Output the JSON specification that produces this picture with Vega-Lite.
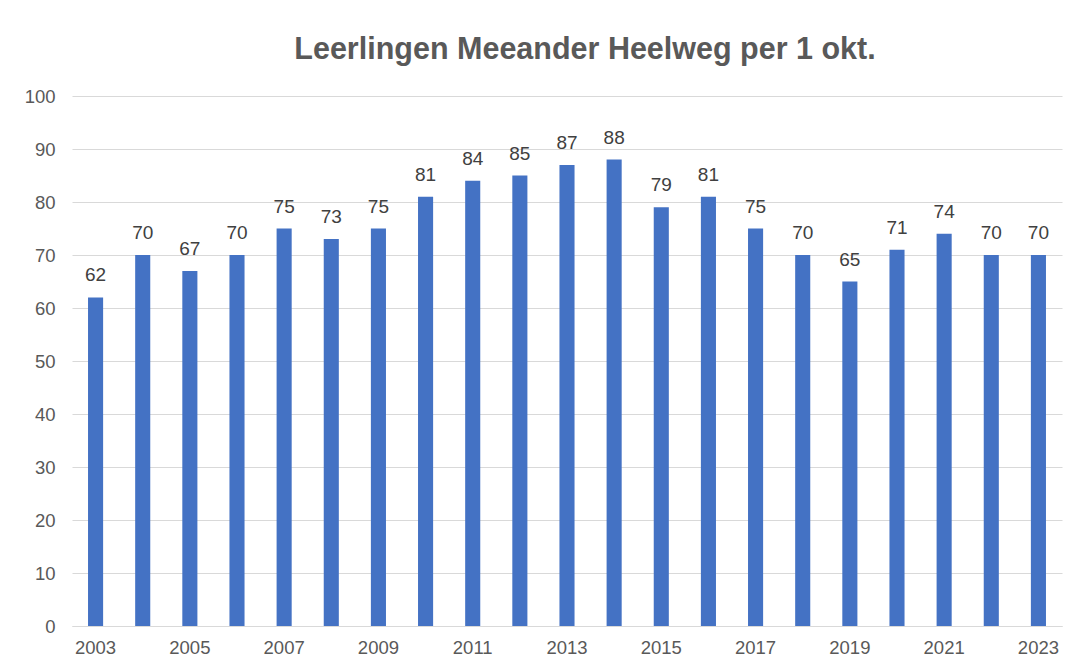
{
  "$schema": "https://vega.github.io/schema/vega-lite/v6.json",
  "autosize": {"type": "none"},
  "width": 990,
  "height": 530,
  "padding": {"left": 72, "top": 96, "right": 11, "bottom": 45},
  "background": "white",
  "title": {
    "text": "Leerlingen Meeander Heelweg per 1 okt.",
    "fontSize": 30.5,
    "font": "Liberation Sans",
    "fontWeight": "bold",
    "color": "#595959",
    "anchor": "middle",
    "dx": 18,
    "offset": 22
  },
  "data": {
    "values": [
      {"jaar": "2003", "leerlingen": 62},
      {"jaar": "2004", "leerlingen": 70},
      {"jaar": "2005", "leerlingen": 67},
      {"jaar": "2006", "leerlingen": 70},
      {"jaar": "2007", "leerlingen": 75},
      {"jaar": "2008", "leerlingen": 73},
      {"jaar": "2009", "leerlingen": 75},
      {"jaar": "2010", "leerlingen": 81},
      {"jaar": "2011", "leerlingen": 84},
      {"jaar": "2012", "leerlingen": 85},
      {"jaar": "2013", "leerlingen": 87},
      {"jaar": "2014", "leerlingen": 88},
      {"jaar": "2015", "leerlingen": 79},
      {"jaar": "2016", "leerlingen": 81},
      {"jaar": "2017", "leerlingen": 75},
      {"jaar": "2018", "leerlingen": 70},
      {"jaar": "2019", "leerlingen": 65},
      {"jaar": "2020", "leerlingen": 71},
      {"jaar": "2021", "leerlingen": 74},
      {"jaar": "2022", "leerlingen": 70},
      {"jaar": "2023", "leerlingen": 70}
    ]
  },
  "encoding": {
    "x": {
      "field": "jaar",
      "type": "ordinal",
      "scale": {"paddingInner": 0.68, "paddingOuter": 0.34},
      "axis": {
        "title": null,
        "values": ["2003","2005","2007","2009","2011","2013","2015","2017","2019","2021","2023"],
        "labelAngle": 0,
        "labelFont": "Liberation Sans",
        "labelFontSize": 18.5,
        "labelColor": "#595959",
        "labelPadding": 12,
        "ticks": false,
        "domainColor": "#d9d9d9",
        "domainWidth": 1
      }
    },
    "y": {
      "field": "leerlingen",
      "type": "quantitative",
      "scale": {"domain": [0, 100]},
      "axis": {
        "title": null,
        "values": [0,10,20,30,40,50,60,70,80,90,100],
        "labelFont": "Liberation Sans",
        "labelFontSize": 18.5,
        "labelColor": "#595959",
        "labelPadding": 17,
        "ticks": false,
        "domain": false,
        "gridColor": "#d9d9d9",
        "gridWidth": 1
      }
    }
  },
  "layer": [
    {"mark": {"type": "bar", "color": "#4472C4"}},
    {
      "mark": {
        "type": "text",
        "baseline": "alphabetic",
        "dy": -16,
        "font": "Liberation Sans",
        "fontSize": 19,
        "color": "#404040"
      },
      "encoding": {"text": {"field": "leerlingen", "type": "quantitative"}}
    }
  ],
  "config": {"view": {"stroke": null}}
}
